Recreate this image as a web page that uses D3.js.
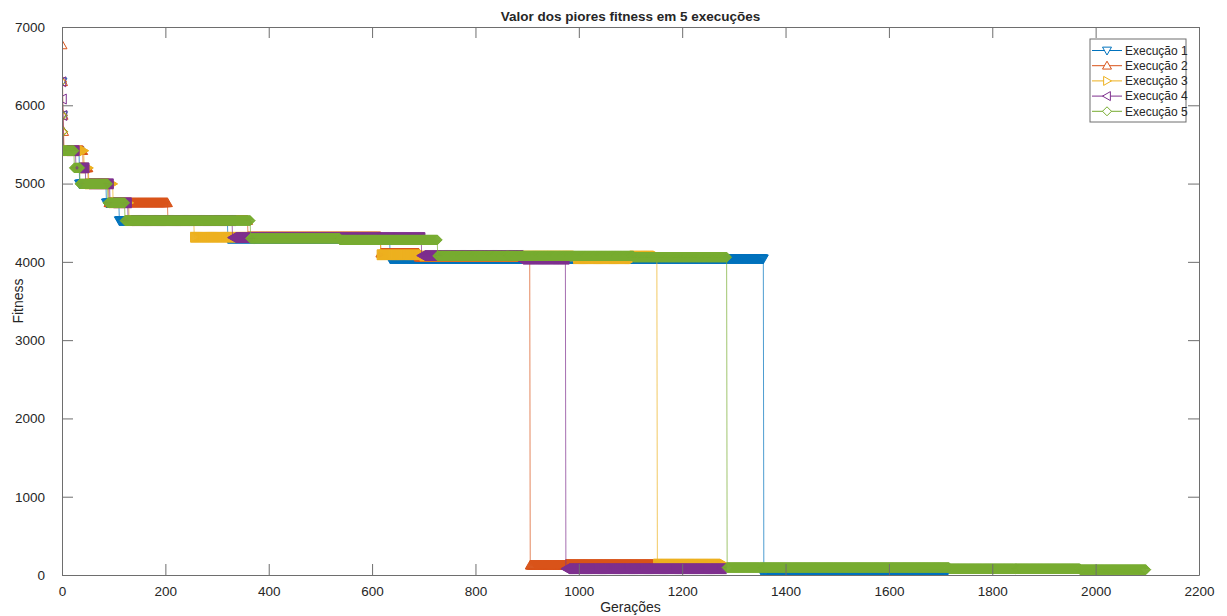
<!DOCTYPE html>
<html>
<head>
<meta charset="utf-8">
<script src="https://cdn.jsdelivr.net/npm/d3@7"></script>
<style>
  body { margin: 0; background: #ffffff; }
  text { font-family: "Liberation Sans", Arial, Helvetica, sans-serif; fill: #262626; }
</style>
</head>
<body>
<div id="visualization"></div>
<script>

// axis ticks
let xTicks = [0, 200, 400, 600, 800, 1000, 1200, 1400, 1600, 1800, 2000, 2200];
let yTicks = [0, 1000, 2000, 3000, 4000, 5000, 6000, 7000];

let seriesNames = ['Execução 1', 'Execução 2', 'Execução 3', 'Execução 4', 'Execução 5'];
let seriesColors = ['#0072BD', '#D95319', '#EDB120', '#7E2F8E', '#77AC30'];
let seriesMarkers = ['v', '^', '>', '<', 'd'];

// every run: generation where the worst fitness changes, value from that generation on,
// and the last generation of the run
let gen1 = [0, 1, 2, 34, 86, 111, 321, 635, 1358, 1665];
let fit1 = [6300, 5870, 5420, 4996, 4754, 4527, 4300, 4040, 0, 20];
let last1 = 1710;

let gen2 = [0, 1, 2, 3, 4, 41, 51, 91, 205, 360, 617, 691, 906, 975];
let fit2 = [6770, 6300, 5870, 5663, 5420, 5200, 4996, 4754, 4527, 4320, 4110, 4060, 125, 135];
let last2 = 1270;

let gen3 = [0, 1, 2, 3, 43, 52, 99, 130, 256, 617, 700, 997, 1106, 1152];
let fit3 = [6300, 5870, 5663, 5420, 5200, 4996, 4754, 4527, 4315, 4090, 4075, 4040, 4075, 140];
let last3 = 1280;

let gen4 = [0, 1, 2, 3, 27, 46, 93, 128, 330, 696, 886, 975];
let fit4 = [6300, 6080, 5870, 5420, 5200, 4996, 4754, 4527, 4310, 4080, 4035, 80];
let last4 = 1278;

let gen5 = [0, 1, 2, 24, 35, 89, 122, 365, 538, 727, 1106, 1287, 1717, 1970];
let fit5 = [5870, 5663, 5420, 5200, 4996, 4754, 4527, 4300, 4280, 4076, 4060, 95, 80, 68];
let last5 = 2097;

let runs = [
  { gens: gen1, fits: fit1, last: last1 },
  { gens: gen2, fits: fit2, last: last2 },
  { gens: gen3, fits: fit3, last: last3 },
  { gens: gen4, fits: fit4, last: last4 },
  { gens: gen5, fits: fit5, last: last5 }
];

main();

function main() {

  let totalWidth = 1227;
  let totalHeight = 616;
  let margin = { top: 27, right: 28, bottom: 41, left: 62 };
  let width = totalWidth - margin.left - margin.right;
  let height = totalHeight - margin.top - margin.bottom;

  let svg = d3.select('#visualization').append('svg')
    .attr('width', totalWidth)
    .attr('height', totalHeight);

  let g = svg.append('g')
    .attr('transform', 'translate(' + margin.left + ',' + margin.top + ')');

  // scales
  let x = d3.scaleLinear().domain([0, 2200]).range([0, width]);
  let y = d3.scaleLinear().domain([0, 7000]).range([height, 0]);

  g.append('clipPath').attr('id', 'plotClip')
    .append('rect').attr('width', width).attr('height', height);

  let plot = g.append('g').attr('clip-path', 'url(#plotClip)');

  let line = d3.line()
    .x(function (d) { return x(d.gen); })
    .y(function (d) { return y(d.fit); });

  // one line object per run: line first, then its markers
  runs.forEach(function (run, i) {
    let points = expandSteps(run.gens, run.fits, run.last);
    let layer = plot.append('g');

    layer.append('path')
      .datum(points)
      .attr('fill', 'none')
      .attr('stroke', seriesColors[i])
      .attr('stroke-width', 0.7)
      .attr('d', line);

    layer.selectAll('.mk')
      .data(points)
      .enter().append('path')
      .attr('class', 'mk')
      .attr('d', markerPath(seriesMarkers[i], 5))
      .attr('transform', function (d) { return 'translate(' + x(d.gen) + ',' + y(d.fit) + ')'; })
      .attr('fill', 'none')
      .attr('stroke', seriesColors[i])
      .attr('stroke-width', 1);
  });

  // box and ticks (MATLAB style, ticks inside on all four sides)
  let axisColor = '#6e6e6e';
  let tickLen = 11;
  let plain = d3.format('d');

  let xAxisBottom = g.append('g')
    .attr('transform', 'translate(0,' + height + ')')
    .call(d3.axisBottom(x).tickValues(xTicks).tickFormat(plain).tickSizeInner(-tickLen).tickSizeOuter(0).tickPadding(tickLen + 9));
  let xAxisTop = g.append('g')
    .call(d3.axisTop(x).tickValues(xTicks).tickSizeInner(-tickLen).tickSizeOuter(0).tickFormat(''));
  let yAxisLeft = g.append('g')
    .call(d3.axisLeft(y).tickValues(yTicks).tickFormat(plain).tickSizeInner(-tickLen).tickSizeOuter(0).tickPadding(tickLen + 6));
  let yAxisRight = g.append('g')
    .attr('transform', 'translate(' + width + ',0)')
    .call(d3.axisRight(y).tickValues(yTicks).tickSizeInner(-tickLen).tickSizeOuter(0).tickFormat(''));

  [xAxisBottom, xAxisTop, yAxisLeft, yAxisRight].forEach(function (ax) {
    ax.select('.domain').attr('stroke', axisColor);
    ax.selectAll('.tick line').attr('stroke', axisColor);
    ax.selectAll('.tick text')
      .attr('font-size', 13.5)
      .attr('font-family', '"Liberation Sans", Arial, sans-serif')
      .attr('fill', '#262626');
  });

  xAxisBottom.selectAll('.tick text').attr('dy', '0.1em');

  // title and axis labels
  svg.append('text')
    .attr('x', margin.left + width / 2)
    .attr('y', 21)
    .attr('text-anchor', 'middle')
    .attr('font-size', 13.5)
    .attr('font-weight', 'bold')
    .text('Valor dos piores fitness em 5 execuções');

  svg.append('text')
    .attr('x', margin.left + width / 2)
    .attr('y', 612)
    .attr('text-anchor', 'middle')
    .attr('font-size', 14)
    .text('Gerações');

  svg.append('text')
    .attr('transform', 'translate(23,' + (margin.top + height / 2) + ') rotate(-90)')
    .attr('text-anchor', 'middle')
    .attr('font-size', 14)
    .text('Fitness');

  // legend
  let legend = svg.append('g').attr('transform', 'translate(1090,39)');
  legend.append('rect')
    .attr('width', 96)
    .attr('height', 83)
    .attr('fill', '#ffffff')
    .attr('stroke', '#6e6e6e')
    .attr('stroke-width', 1);

  seriesNames.forEach(function (name, i) {
    let row = legend.append('g').attr('transform', 'translate(0,' + (11.5 + i * 15.2) + ')');
    row.append('line')
      .attr('x1', 2).attr('x2', 32)
      .attr('stroke', seriesColors[i])
      .attr('stroke-width', 1);
    row.append('path')
      .attr('d', markerPath(seriesMarkers[i], 4.5))
      .attr('transform', 'translate(17,0)')
      .attr('fill', '#ffffff')
      .attr('stroke', seriesColors[i])
      .attr('stroke-width', 1);
    row.append('text')
      .attr('x', 35)
      .attr('y', 4.3)
      .attr('font-size', 12)
      .text(name);
  });
}

/**
* Turns the change points of a run into one point per generation,
* the value holds until the next change.
*/
function expandSteps(gens, fits, lastGen) {
  let points = [];
  let k = 0;
  for (let gen = 0; gen <= lastGen; gen++) {
    while (k + 1 < gens.length && gens[k + 1] <= gen) k++;
    points.push({ gen: gen, fit: fits[k] });
  }
  return points;
}

/**
* Path of a MATLAB like marker centred on 0,0.
*/
function markerPath(type, r) {
  let s = r * 0.75;
  if (type === 'v') return 'M' + (-r) + ',' + (-s) + 'L' + r + ',' + (-s) + 'L0,' + r + 'Z';
  if (type === '^') return 'M0,' + (-r) + 'L' + r + ',' + s + 'L' + (-r) + ',' + s + 'Z';
  if (type === '>') return 'M' + (-s) + ',' + (-r) + 'L' + r + ',0L' + (-s) + ',' + r + 'Z';
  if (type === '<') return 'M' + s + ',' + (-r) + 'L' + (-r) + ',0L' + s + ',' + r + 'Z';
  // diamond
  return 'M0,' + (-r) + 'L' + r + ',0L0,' + r + 'L' + (-r) + ',0Z';
}

</script>
</body>
</html>
